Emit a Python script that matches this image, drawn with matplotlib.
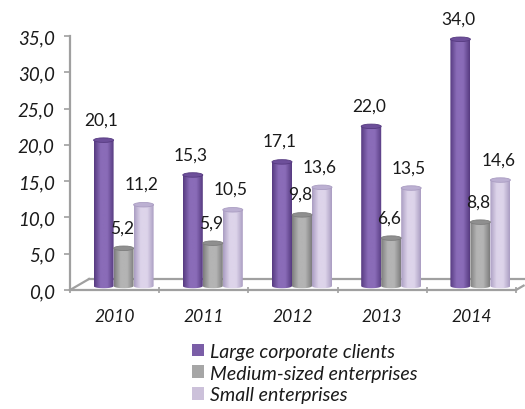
import numpy as np
import matplotlib
matplotlib.use("Agg")
import matplotlib.pyplot as plt
from matplotlib.patches import Ellipse, PathPatch, Patch
from matplotlib.path import Path
from matplotlib.colors import LinearSegmentedColormap

plt.rcParams['font.family'] = ['Lato', 'DejaVu Sans']

years = ['2010', '2011', '2012', '2013', '2014']
series_names = ['Large corporate clients', 'Medium-sized enterprises', 'Small enterprises']
large = [20.1, 15.3, 17.1, 22.0, 34.0]
medium = [5.2, 5.9, 9.8, 6.6, 8.8]
small = [11.2, 10.5, 13.6, 13.5, 14.6]
y_ticks = [0, 5, 10, 15, 20, 25, 30, 35]

series = [large, medium, small]
# (dark edge, highlight, cap, legend swatch)
palettes = [
    ('#563a80', '#8a6cb8', '#6d4f9a', '#7b5ea7'),
    ('#7d7d7d', '#b4b4b4', '#8f8f8f', '#a6a6a6'),
    ('#aa9dc2', '#ddd4ea', '#bcb0d2', '#ccc1da'),
]

W, H = 525, 410
fig = plt.figure(figsize=(W / 100, H / 100), dpi=100)
ax_l, ax_r, ax_t, ax_b = 70, 516, 37, 291
ax = fig.add_axes([ax_l / W, 1 - ax_b / H, (ax_r - ax_l) / W, (ax_b - ax_t) / H])
ax.set_xlim(-0.5, 4.5)
ax.set_ylim(0, 35)

px_x = (ax_r - ax_l) / 5.0        # pixels per category
px_y = (ax_b - ax_t) / 35.0       # pixels per unit

# depth offsets (3D look): bars sit midway into the floor
bar_dx, bar_dy = 9 / px_x, 4 / px_y
floor_dx, floor_dy = 19 / px_x, 11 / px_y
bar_w = 20 / px_x
cap_h = 4.5 / px_y

axis_gray = '#a0a0a0'

# floor outline
ax.plot([-0.5, -0.5 + floor_dx], [0, floor_dy], color=axis_gray, lw=1.6, clip_on=False, zorder=1)
ax.plot([-0.5 + floor_dx, 4.5 + floor_dx], [floor_dy, floor_dy], color=axis_gray, lw=1.6, clip_on=False, zorder=1)
ax.plot([4.5, 4.5 + floor_dx * 0.4], [0, floor_dy * 0.4], color=axis_gray, lw=1.6, clip_on=False, zorder=1)


def cylinder(xc, base, value, pal, z):
    dark, light, cap, _ = pal
    x0, x1 = xc - bar_w / 2, xc + bar_w / 2
    top = base + value
    t = np.linspace(np.pi, 2 * np.pi, 40)
    bx = xc + bar_w / 2 * np.cos(t)
    by = base + cap_h / 2 * np.sin(t)
    verts = [(x0, top)] + list(zip(bx, by)) + [(x1, top), (x0, top)]
    codes = [Path.MOVETO] + [Path.LINETO] * (len(verts) - 2) + [Path.CLOSEPOLY]
    body = PathPatch(Path(verts, codes), facecolor='none', edgecolor='none', zorder=z)
    ax.add_patch(body)
    cmap = LinearSegmentedColormap.from_list('c', [dark, light, light, dark], N=256)
    grad = np.linspace(0, 1, 128)[None, :]
    im = ax.imshow(grad, extent=[x0, x1, base - cap_h, top], cmap=cmap, aspect='auto',
                   zorder=z, interpolation='bilinear')
    im.set_clip_path(body)
    ax.add_patch(Ellipse((xc, top), bar_w, cap_h, facecolor=cap, edgecolor=dark,
                         lw=0.6, zorder=z + 0.1))
    ax.annotate(f"{value:.1f}".replace('.', ','), (xc, top), xytext=(-1.5, 15),
                textcoords='offset points', ha='center', va='center',
                fontsize=12.5, color='#1a1a1a', zorder=10)


x = np.arange(len(years))
offsets = [-bar_w, 0, bar_w]
for si, (vals, pal) in enumerate(zip(series, palettes)):
    for i, v in enumerate(vals):
        cylinder(x[i] + offsets[si] + bar_dx, bar_dy, v, pal, 3 + si * 0.01 + i * 0.001)

ax.set_xlim(-0.5, 4.5)
ax.set_ylim(0, 35)

for s in ['top', 'right']:
    ax.spines[s].set_visible(False)
for s in ['left', 'bottom']:
    ax.spines[s].set_color(axis_gray)
    ax.spines[s].set_linewidth(1.6)

ax.set_yticks(y_ticks)
ax.set_yticklabels([f"{v:.1f}".replace('.', ',') for v in y_ticks])
ax.tick_params(axis='y', length=4, width=1.2, color=axis_gray, pad=7)

ax.set_xticks(x)
ax.set_xticklabels(years)
ax.set_xticks(np.arange(-0.5, 5, 1), minor=True)
ax.tick_params(axis='x', which='major', length=0, pad=13)
ax.tick_params(axis='x', which='minor', length=4, width=1.2, color=axis_gray, direction='inout')

for lbl in ax.get_yticklabels():
    lbl.set_fontstyle('italic')
    lbl.set_fontsize(13.5)
    lbl.set_color('#1a1a1a')
for lbl in ax.get_xticklabels():
    lbl.set_fontstyle('italic')
    lbl.set_fontsize(12.5)
    lbl.set_color('#1a1a1a')

handles = [Patch(facecolor=p[3], edgecolor='none') for p in palettes]
leg = fig.legend(handles, series_names, loc='upper left', bbox_to_anchor=(182 / W, 1 - 334 / H),
                 frameon=False, handlelength=0.62, handleheight=0.62, handletextpad=0.3,
                 labelspacing=0.25, borderpad=0, prop={'size': 14, 'style': 'italic'})
for t in leg.get_texts():
    t.set_color('#1a1a1a')

fig.savefig('out.png', dpi=100)
